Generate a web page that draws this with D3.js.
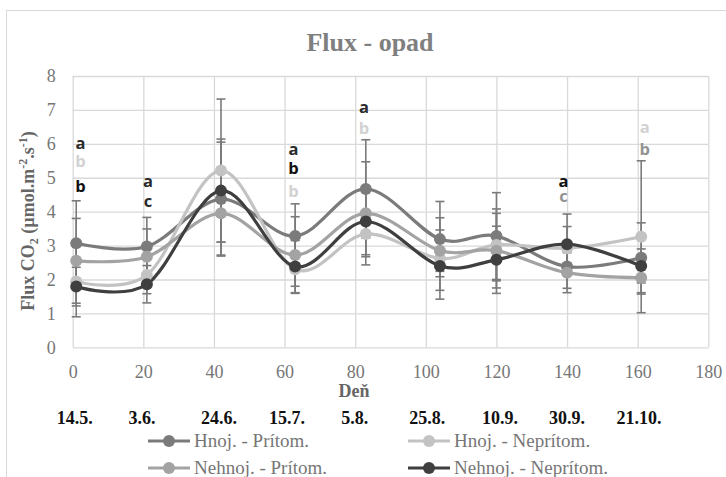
<!DOCTYPE html>
<html>
<head>
<meta charset="utf-8">
<script src="https://cdn.jsdelivr.net/npm/d3@7"></script>
<style>
  html, body { margin: 0; padding: 0; background: #fff; }
  svg { display: block; }
</style>
</head>
<body>
<div id="chart"></div>
<script>
// sampling days and calendar dates
const days = [1, 21, 42, 63, 83, 104, 120, 140, 161];
const dates = ['14.5.', '3.6.', '24.6.', '15.7.', '5.8.', '25.8.', '10.9.', '30.9.', '21.10.'];
// day under which each date label sits
const dateDays = [0.6, 19.6, 41.4, 60.7, 79.9, 100.4, 121, 140, 160.4];

// mean CO2 flux per treatment
const hnojPritom     = [3.07, 2.97, 4.37, 3.28, 4.67, 3.19, 3.28, 2.38, 2.64];
const hnojNepritom   = [1.94, 2.13, 5.21, 2.30, 3.34, 2.62, 3.02, 2.92, 3.26];
const nehnojPritom   = [2.55, 2.67, 3.95, 2.72, 3.95, 2.85, 2.85, 2.20, 2.05];
const nehnojNepritom = [1.79, 1.86, 4.62, 2.38, 3.71, 2.40, 2.58, 3.04, 2.40];

// error bar half-widths
const errHnojPritom     = [1.25, 0.86, 1.68, 0.95, 1.45, 1.11, 1.28, 0.64, 1.03];
const errHnojNepritom   = [1.04, 0.55, 2.11, 0.50, 0.67, 1.20, 1.06, 0.64, 2.24];
const errNehnojPritom   = [1.25, 0.82, 1.23, 1.13, 1.52, 0.61, 1.10, 0.59, 0.48];
const errNehnojNepritom = [0.57, 0.55, 1.52, 0.77, 0.98, 0.72, 0.99, 0.89, 0.50];

const seriesNames = ['Hnoj. - Prítom.', 'Hnoj. - Neprítom.', 'Nehnoj. - Prítom.', 'Nehnoj. - Neprítom.'];
const yTicks = [0, 1, 2, 3, 4, 5, 6, 7, 8];
const xTicks = [0, 20, 40, 60, 80, 100, 120, 140, 160, 180];

// significance letters: [day, value, letter, shade]
const letters = [
  [2.2, 5.85, 'a', 'dark'], [2.2, 5.32, 'b', 'light'], [2.2, 4.58, 'b', 'black'],
  [21.3, 4.72, 'a', 'dark'], [21.3, 4.13, 'c', 'dark'],
  [62.5, 5.67, 'a', 'dark'], [62.5, 5.11, 'b', 'black'], [62.5, 4.42, 'b', 'light'],
  [82.5, 6.90, 'a', 'dark'], [82.5, 6.28, 'b', 'light'],
  [139, 4.74, 'a', 'black'], [139, 4.28, 'c', 'mid'],
  [162, 6.31, 'a', 'light'], [162, 5.67, 'b', 'mid']
];

const W = 726, H = 477;
const colors = ['#7b7b7b', '#c3c3c3', '#a3a3a3', '#3f3f3f'];
const shades = { dark: '#2b2b2b', black: '#111', light: '#d2d2d2', mid: '#939393' };
const serif = '"Liberation Serif", "Times New Roman", serif';

const series = [
  { name: seriesNames[0], values: hnojPritom, err: errHnojPritom, color: colors[0] },
  { name: seriesNames[1], values: hnojNepritom, err: errHnojNepritom, color: colors[1] },
  { name: seriesNames[2], values: nehnojPritom, err: errNehnojPritom, color: colors[2] },
  { name: seriesNames[3], values: nehnojNepritom, err: errNehnojNepritom, color: colors[3] }
];

const svg = d3.select('#chart').append('svg')
  .attr('width', W).attr('height', H);

// chart frame
svg.append('rect')
  .attr('x', 6.5).attr('y', 10.5).attr('width', 740).attr('height', 500)
  .attr('fill', '#fff').attr('stroke', '#d9d9d9');

const x = d3.scaleLinear().domain([0, 180]).range([72.7, 708.3]);
const y = d3.scaleLinear().domain([0, 8]).range([347.3, 76]);

// y axis + horizontal grid
const gy = svg.append('g')
  .attr('transform', `translate(${x(0)},0)`)
  .call(d3.axisLeft(y).tickValues(yTicks).tickSize(-(x(180) - x(0))).tickPadding(17).tickFormat(d3.format('d')));
gy.select('.domain').remove();
gy.selectAll('line').attr('stroke', '#d9d9d9').attr('stroke-width', 1.3);
gy.selectAll('text').style('font-family', serif).style('font-size', '18px').attr('fill', '#767676');

// x axis + vertical grid
const gx = svg.append('g')
  .attr('transform', `translate(0,${y(0)})`)
  .call(d3.axisBottom(x).tickValues(xTicks).tickSize(-(y(0) - y(8))).tickPadding(18).tickFormat(d3.format('d')));
gx.select('.domain').remove();
gx.selectAll('line').attr('stroke', '#d9d9d9').attr('stroke-width', 1.3);
gx.selectAll('text').style('font-family', serif).style('font-size', '18px').attr('fill', '#767676');

// title
svg.append('text')
  .attr('x', 370).attr('y', 50.5).attr('text-anchor', 'middle')
  .style('font-family', serif).style('font-size', '26px').style('font-weight', 'bold')
  .attr('fill', '#7f7f7f').text('Flux - opad');

// x axis title
svg.append('text')
  .attr('x', 354).attr('y', 396.5).attr('text-anchor', 'middle')
  .style('font-family', serif).style('font-size', '18px').style('font-weight', 'bold')
  .attr('fill', '#666').text('Deň');

// y axis title
const yt = svg.append('text')
  .attr('transform', 'translate(34,221) rotate(-90)')
  .attr('text-anchor', 'middle')
  .style('font-family', serif).style('font-size', '18px').style('font-weight', 'bold')
  .attr('fill', '#666');
yt.append('tspan').text('Flux CO');
yt.append('tspan').attr('dy', 4).style('font-size', '12px').text('2');
yt.append('tspan').attr('dy', -4).text(' (µmol.m');
yt.append('tspan').attr('dy', -7).style('font-size', '12px').text('-2');
yt.append('tspan').attr('dy', 7).text('.s');
yt.append('tspan').attr('dy', -7).style('font-size', '12px').text('-1');
yt.append('tspan').attr('dy', 7).text(')');

// dates under the axis
svg.append('g').selectAll('text')
  .data(dates)
  .join('text')
  .attr('x', (d, i) => x(dateDays[i]))
  .attr('y', 423.5)
  .attr('text-anchor', 'middle')
  .style('font-family', serif).style('font-size', '18px').style('font-weight', 'bold')
  .attr('fill', '#111')
  .text(d => d);

// smoothed lines
const line = d3.line()
  .x((d, i) => x(days[i]))
  .y(d => y(d))
  .curve(d3.curveCardinal);

svg.append('g').selectAll('path')
  .data(series)
  .join('path')
  .attr('d', s => line(s.values))
  .attr('fill', 'none')
  .attr('stroke', s => s.color)
  .attr('stroke-width', 3.2);

// error bars
const bars = svg.append('g')
  .attr('stroke', '#7a7a7a').attr('stroke-width', 1.6);
series.forEach(s => {
  s.values.forEach((v, i) => {
    const cx = x(days[i]);
    const lo = y(v - s.err[i]), hi = y(v + s.err[i]);
    bars.append('line').attr('x1', cx).attr('x2', cx).attr('y1', lo).attr('y2', hi);
    bars.append('line').attr('x1', cx - 4.5).attr('x2', cx + 4.5).attr('y1', lo).attr('y2', lo);
    bars.append('line').attr('x1', cx - 4.5).attr('x2', cx + 4.5).attr('y1', hi).attr('y2', hi);
  });
});

// markers
series.forEach(s => {
  svg.append('g').selectAll('circle')
    .data(s.values)
    .join('circle')
    .attr('cx', (d, i) => x(days[i]))
    .attr('cy', d => y(d))
    .attr('r', 6)
    .attr('fill', s.color);
});

// significance letters
svg.append('g').selectAll('text')
  .data(letters)
  .join('text')
  .attr('x', d => x(d[0]))
  .attr('y', d => y(d[1]))
  .attr('text-anchor', 'middle')
  .style('font-family', '"Open Sans", sans-serif').style('font-size', '16.5px').style('font-weight', 'bold')
  .attr('fill', d => shades[d[3]])
  .text(d => d[2]);

// legend, two columns
const legendPos = [[148, 441], [408, 441], [148, 468], [408, 468]];
const lg = svg.append('g').selectAll('g')
  .data(series)
  .join('g')
  .attr('transform', (d, i) => `translate(${legendPos[i][0]},${legendPos[i][1]})`);
lg.append('line')
  .attr('x1', 0).attr('x2', 42).attr('y1', 0).attr('y2', 0)
  .attr('stroke', d => d.color).attr('stroke-width', 3.2);
lg.append('circle')
  .attr('cx', 21).attr('cy', 0).attr('r', 6)
  .attr('fill', d => d.color);
lg.append('text')
  .attr('x', 46).attr('y', 6)
  .style('font-family', serif).style('font-size', '19px')
  .attr('fill', '#767676')
  .text(d => d.name);
</script>
</body>
</html>
